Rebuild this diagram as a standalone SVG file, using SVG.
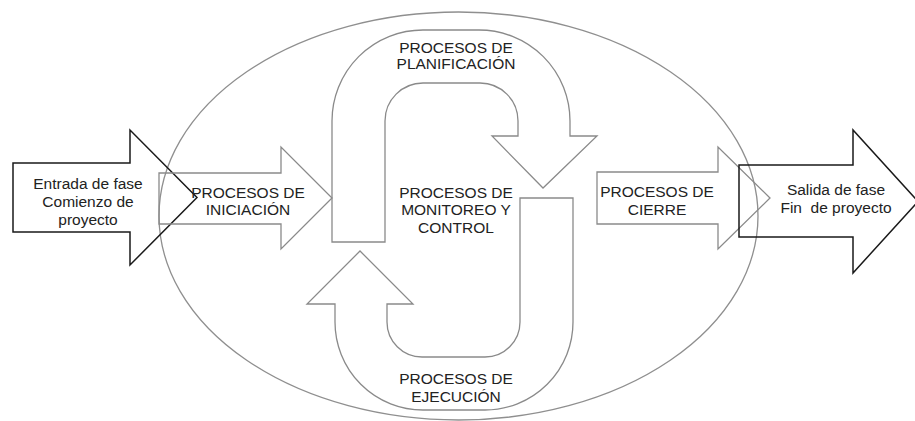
<svg xmlns="http://www.w3.org/2000/svg" width="915" height="421" viewBox="0 0 915 421">
<style>
.bg{fill:#ffffff}
.gray{fill:none;stroke:#8a8a8a;stroke-width:1.3;stroke-linejoin:miter}
.black{fill:none;stroke:#1a1a1a;stroke-width:1.5;stroke-linejoin:miter}
.ell{fill:none;stroke:#8f8f8f;stroke-width:1.3}
text{font-family:"Liberation Sans",Arial,sans-serif;font-size:15.5px;fill:#222222;text-anchor:middle}
</style>
<rect class="bg" x="0" y="0" width="915" height="421"/>
<g id="fase">
<ellipse class="ell" cx="458.5" cy="216" rx="299.5" ry="204"/>
</g>
<g id="entrada">
<path class="black" d="M13 163 L130 163 L130 130 L197 197.5 L130 265 L130 232 L13 232 Z"/>
<text x="88" y="189">Entrada de fase</text>
<text x="88" y="207">Comienzo de</text>
<text x="88" y="225">proyecto</text>
</g>
<g id="iniciacion">
<path class="gray" d="M159 173 L281 173 L281 147 L332 198 L281 249 L281 224 L159 224 Z"/>
<text x="248" y="198">PROCESOS DE</text>
<text x="248" y="215">INICIACIÓN</text>
</g>
<g id="planificacion">
<path class="gray" d="M332 242 L332 121 A91 91 0 0 1 423 30 L479 30 A91 91 0 0 1 570 121 L570 136 L597 136 L543 188 L492 136 L518 136 L518 121 A38 38 0 0 0 480 83 L423 83 A38 38 0 0 0 385 121 L385 242 Z"/>
<text x="456" y="53">PROCESOS DE</text>
<text x="456" y="69">PLANIFICACIÓN</text>
</g>
<g id="monitoreo">
<text x="456" y="198">PROCESOS DE</text>
<text x="456" y="215">MONITOREO Y</text>
<text x="456" y="233">CONTROL</text>
</g>
<g id="ejecucion">
<path class="gray" d="M520 198 L573 198 L573 322 A88 88 0 0 1 485 410 L423 410 A88 88 0 0 1 335 322 L335 304 L307 304 L360 251 L413 304 L387 304 L387 322 A35 35 0 0 0 422 357 L485 357 A35 35 0 0 0 520 322 Z"/>
<text x="456" y="384">PROCESOS DE</text>
<text x="456" y="402">EJECUCIÓN</text>
</g>
<g id="cierre">
<path class="gray" d="M597 172 L718 172 L718 147 L770 198 L718 249 L718 224 L597 224 Z"/>
<text x="657" y="197">PROCESOS DE</text>
<text x="657" y="215">CIERRE</text>
</g>
<g id="salida">
<path class="black" d="M739 165 L853 165 L853 130 L918 201.5 L853 273 L853 237 L739 237 Z"/>
<text x="836" y="195">Salida de fase</text>
<text x="836" y="213" xml:space="preserve">Fin  de proyecto</text>
</g>
<g id="connectors"></g>
</svg>
